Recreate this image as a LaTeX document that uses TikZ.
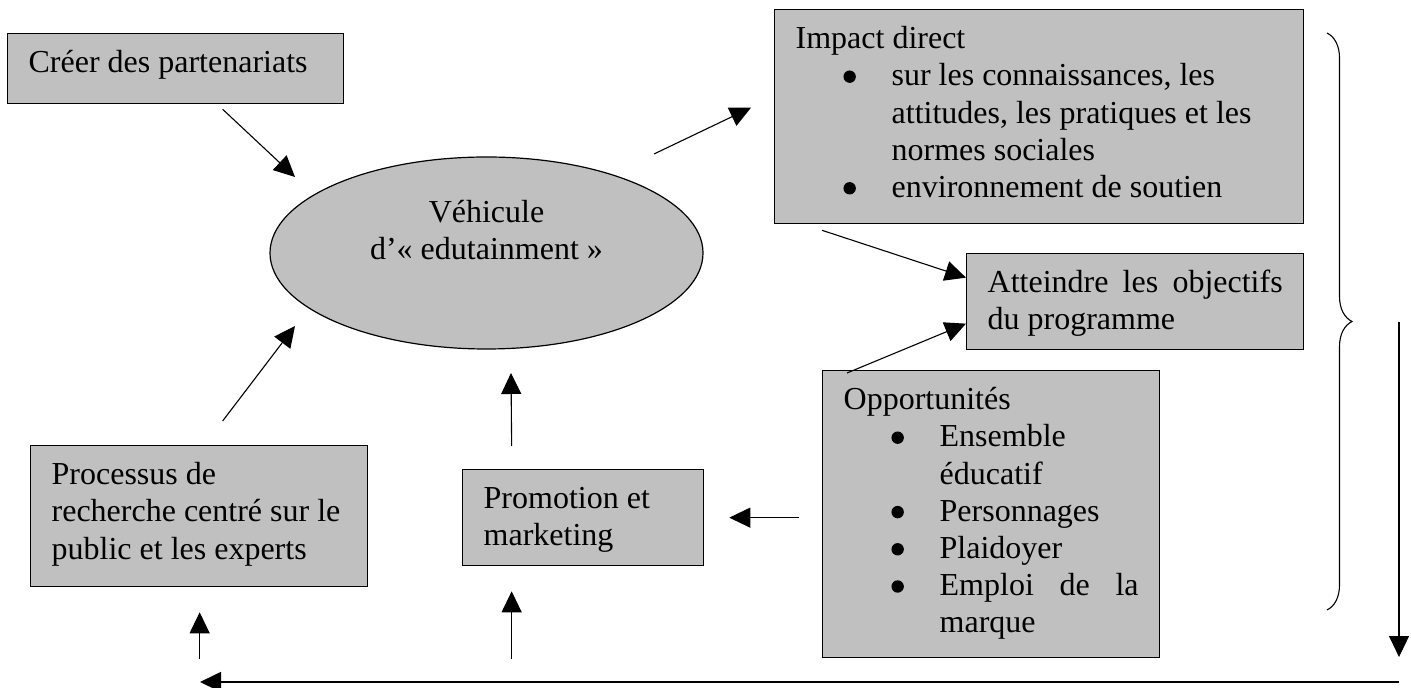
\documentclass[tikz,border=0pt]{standalone}
\usepackage{fontspec}
\usepackage{pict2e}
\setmainfont{Liberation Serif}
\usetikzlibrary{shapes,arrows.meta,calc,decorations.pathreplacing}

\definecolor{gris}{RGB}{192,192,192}

% puce ronde et liste a puces des encadres
\newcommand{\puce}{\setlength{\unitlength}{1pt}\begin{picture}(0,0)\put(0,4.6){\circle*{6.2}}\end{picture}}
\newenvironment{puces}{%
  \begin{list}{\puce}{%
    \setlength{\leftmargin}{48pt}\setlength{\labelwidth}{0pt}%
    \setlength{\labelsep}{21pt}\setlength{\itemindent}{0pt}%
    \setlength{\topsep}{0pt}\setlength{\partopsep}{0pt}%
    \setlength{\itemsep}{0pt}\setlength{\parsep}{0pt}}}%
  {\end{list}}
\newcommand{\cadre}[3]{\parbox[t][#1][t]{#2}{\strut #3}}

\begin{document}
\begin{tikzpicture}[
    x=0.5pt, y=-0.5pt,
    bloc/.style={rectangle, draw, line width=0.65pt, fill=gris, anchor=north west, inner xsep=10.5pt, inner ysep=6.5pt, font=\fontsize{16pt}{18.6pt}\selectfont},
    ovale/.style={ellipse, draw, line width=0.6pt, fill=gris, minimum width=216.5pt, minimum height=96pt, inner sep=0pt, font=\fontsize{16pt}{18.6pt}\selectfont},
    fleche/.style={-{Triangle[length=10.5pt,width=10pt]}, line width=0.55pt}
]
\useasboundingbox (0,0) rectangle (1411,688);

% Partenariats et vehicule
\node[bloc] (creer) at (7,33) {\cadre{22pt}{147pt}{Créer des partenariats}};
\node[ovale] (vehicule) at (486.5,253) {\parbox[c][57pt][t]{140pt}{\centering\strut Véhicule\\d’«~edutainment~»}};

% Impact et objectifs
\node[bloc] (impact) at (774,9) {\cadre{94pt}{243.5pt}{Impact direct
  \begin{puces}
  \item sur les connaissances, les\\attitudes, les pratiques et les\\normes sociales
  \item environnement de soutien
  \end{puces}}};
\node[bloc] (atteindre) at (966,253) {\cadre{35pt}{147.5pt}{Atteindre les objectifs\linebreak du programme}};

% Opportunites
\node[bloc] (opport) at (822,370) {\cadre{130.5pt}{147.5pt}{Opportunités
  \begin{puces}
  \item Ensemble\\éducatif
  \item Personnages
  \item Plaidoyer
  \item Emploi de la\linebreak marque
  \end{puces}}};

% Promotion et recherche
\node[bloc] (promo) at (462,469) {\cadre{35pt}{99.5pt}{Promotion et\\marketing}};
\node[bloc] (proc) at (30,445) {\cadre{57.5pt}{147.5pt}{Processus de\\recherche centré sur le\\public et les experts}};

% Boucle de retour
\coordinate (retourH) at (1399,322);
\coordinate (retourB) at (1399,657);
\coordinate (basD) at (1399,682);
\coordinate (basG) at (200,682);

% Fleches
\draw[fleche] ($(creer.south)+(47,5)$) -- ($(vehicule.center)+(-191.5,-76)$);
\draw[fleche] ($(vehicule.center)+(167.5,-99)$) -- ($(impact.west)+(-23,-9)$);
\draw[fleche] ($(impact.south west)+(48,6)$) -- ($(atteindre.west)+(0,-24)$);
\draw[fleche] ($(opport.north west)+(25,3)$) -- ($(atteindre.west)+(0,22)$);
\draw[fleche] ($(opport.west)+(-23,3.5)$) -- ($(promo.east)+(25,0)$);
\draw[fleche] ($(promo.north)+(-71.5,-23)$) -- ($(vehicule.center)+(24.5,120)$);
\draw[fleche] ($(promo.south)+(-71.5,93)$) -- ($(promo.south)+(-71.5,25)$);
\draw[fleche] ($(proc.south)+(0.5,72)$) -- ($(proc.south)+(0.5,25)$);
\draw[fleche] ($(proc.north)+(23.5,-24)$) -- ($(vehicule.center)+(-191.5,73)$);
\draw[fleche] (retourH) -- (retourB);
\draw[fleche, line width=0.8pt] (basD) -- (basG);

% Accolade
\draw[decorate, decoration={brace, amplitude=12.5pt}, line width=0.55pt] (1327,33) -- (1327,610);

\end{tikzpicture}
\end{document}
